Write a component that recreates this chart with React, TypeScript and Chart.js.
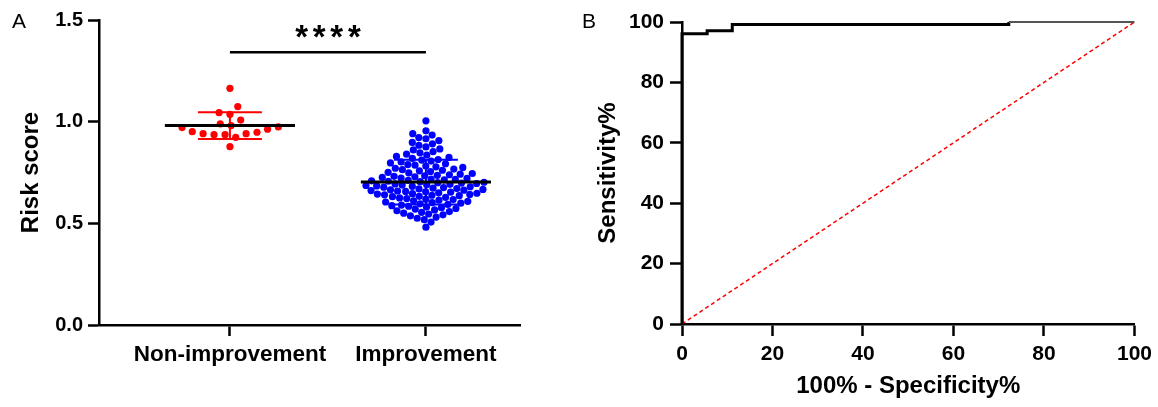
import React, { useEffect, useRef } from 'react';
import { Chart, registerables } from 'chart.js';

Chart.register(...registerables);

const FONT = '"Liberation Sans", Arial, Helvetica, sans-serif';

// ---------- Panel A data ----------
const groupLabels = ['Non-improvement', 'Improvement'];
const groupColors = ['#ff0000', '#0000ff'];
const nonImprovementScores = [
  1.164, 1.074, 1.044, 1.036, 1.008, 0.981, 0.971, 0.963, 0.974,
  0.989, 0.941, 0.936, 0.936, 0.941, 0.951, 0.923, 0.948, 0.877,
];
const improvementScores = [
  1.004,
  0.955, 0.941,
  0.934, 0.922, 0.916,
  0.907, 0.898, 0.891,
  0.884, 0.876, 0.866,
  0.861, 0.853, 0.847, 0.840,
  0.836, 0.829, 0.824, 0.819, 0.814,
  0.811, 0.806, 0.802, 0.797, 0.793, 0.789,
  0.786, 0.782, 0.778, 0.775, 0.771, 0.767, 0.764,
  0.761, 0.758, 0.755, 0.751, 0.748, 0.745, 0.742, 0.739,
  0.736, 0.734, 0.731, 0.729, 0.726, 0.723, 0.721, 0.718, 0.716, 0.714,
  0.711, 0.709, 0.707, 0.705, 0.702, 0.700, 0.698, 0.696, 0.694, 0.692, 0.690, 0.688,
  0.686, 0.684, 0.682, 0.680, 0.678, 0.676, 0.673, 0.671, 0.669, 0.667, 0.665, 0.663,
  0.661, 0.659, 0.657, 0.655, 0.653, 0.650, 0.648, 0.646, 0.644, 0.642, 0.640, 0.638,
  0.636, 0.633, 0.631, 0.628, 0.625, 0.622, 0.619, 0.617, 0.614,
  0.611, 0.608, 0.605, 0.602, 0.599, 0.596, 0.593, 0.590,
  0.587, 0.584, 0.580, 0.577, 0.573, 0.570, 0.566,
  0.562, 0.558, 0.554, 0.550, 0.546, 0.542,
  0.537, 0.531, 0.525, 0.518,
  0.506,
  0.481,
];
const riskRange = [0, 1.5];
const riskStep = 0.5;
const significanceText = '****';
const significanceLevel = 1.341;

// ---------- Panel B data ----------
const rocFpr = [0, 0, 5.56, 5.56, 11.11, 11.11, 72.22, 72.22, 100];
const rocTpr = [0, 96.1, 96.1, 97.1, 97.1, 99.2, 99.2, 100, 100];
const referenceFpr = [0, 100];
const referenceTpr = [0, 100];
const rocRange = [0, 100];
const rocStep = 20;

// ---------- helpers ----------
const mean = (a: number[]) => a.reduce((s, v) => s + v, 0) / a.length;
const sd = (a: number[]) => {
  const m = mean(a);
  return Math.sqrt(a.reduce((s, v) => s + (v - m) * (v - m), 0) / (a.length - 1));
};

function beeswarm(yPix: number[], d: number): number[] {
  const order = yPix.map((_, i) => i).sort((a, b) => yPix[b] - yPix[a]);
  const placed: { x: number; y: number }[] = [];
  const out: number[] = new Array(yPix.length).fill(0);
  let flip = 1;
  for (const i of order) {
    const y = yPix[i];
    const near = placed.filter((p) => Math.abs(p.y - y) < d);
    const cands = [0];
    for (const p of near) {
      const dx = Math.sqrt(d * d - (p.y - y) * (p.y - y));
      cands.push(p.x + dx, p.x - dx);
    }
    cands.sort((a, b) => Math.abs(a) - Math.abs(b) || (a - b) * flip);
    flip = -flip;
    for (const c of cands) {
      if (near.every((p) => (p.x - c) ** 2 + (p.y - y) ** 2 >= d * d - 1e-6)) {
        out[i] = c;
        placed.push({ x: c, y });
        break;
      }
    }
  }
  return out;
}

const swarmSpacing = [11, 7.2];

const axisGrid = {
  drawOnChartArea: false,
  drawTicks: true,
  tickLength: 11,
  tickWidth: 2.5,
  tickColor: '#000',
};
const axisBorder = { display: true, color: '#000', width: 2.5 };

const annotPlugin = {
  id: 'annot',
  afterDraw(chart: any, _args: any, opts: any) {
    const ctx = chart.ctx;
    ctx.save();
    ctx.fillStyle = '#000';
    ctx.textAlign = 'left';
    ctx.textBaseline = 'alphabetic';
    ctx.font = `21px ${FONT}`;
    ctx.fillText(opts.label, opts.lx, opts.ly);
    if (opts.stars) {
      const xs = chart.scales.x;
      const ys = chart.scales.y;
      const cx = (xs.getPixelForValue(0) + xs.getPixelForValue(1)) / 2;
      const barY = ys.getPixelForValue(significanceLevel);
      ctx.font = `bold 100px ${FONT}`;
      const m = ctx.measureText('*');
      const h100 = m.actualBoundingBoxAscent + m.actualBoundingBoxDescent;
      const size = (100 * 12.5) / h100;
      ctx.font = `bold ${size}px ${FONT}`;
      const mm = ctx.measureText('*');
      const cy = barY - 21;
      const base = cy + (mm.actualBoundingBoxAscent - mm.actualBoundingBoxDescent) / 2;
      ctx.textAlign = 'center';
      const n = significanceText.length;
      const sp = 17.6;
      for (let k = 0; k < n; k++) {
        ctx.fillText(significanceText[k], cx + (k - (n - 1) / 2) * sp, base);
      }
    }
    ctx.restore();
  },
};

function PanelA() {
  const ref = useRef<HTMLCanvasElement>(null);
  useEffect(() => {
    const groups = [nonImprovementScores, improvementScores];
    const datasets: any[] = [];
    groups.forEach((vals, gi) => {
      datasets.push({
        type: 'scatter',
        data: vals.map((v) => ({ x: gi, y: v })),
        backgroundColor: groupColors[gi],
        borderWidth: 0,
        pointRadius: 3.6,
        order: 3,
      });
    });
    groups.forEach((vals, gi) => {
      const m = mean(vals);
      const s = sd(vals);
      const cw = 0.163;
      datasets.push({
        type: 'line',
        showLine: true,
        data: [
          { x: gi - cw, y: m + s }, { x: gi + cw, y: m + s }, { x: gi, y: null },
          { x: gi, y: m + s }, { x: gi, y: m - s }, { x: gi, y: null },
          { x: gi - cw, y: m - s }, { x: gi + cw, y: m - s },
        ],
        borderColor: groupColors[gi],
        borderWidth: 2,
        pointRadius: 0,
        spanGaps: false,
        order: 2,
      });
      datasets.push({
        type: 'line',
        showLine: true,
        data: [{ x: gi - 0.332, y: m }, { x: gi + 0.332, y: m }],
        borderColor: '#000',
        borderWidth: 3,
        pointRadius: 0,
        order: 1,
      });
    });
    datasets.push({
      type: 'line',
      showLine: true,
      data: [{ x: 0, y: significanceLevel }, { x: 1, y: significanceLevel }],
      borderColor: '#000',
      borderWidth: 2.5,
      pointRadius: 0,
      clip: false,
      order: 0,
    });

    const chart = new Chart(ref.current!, {
      type: 'scatter',
      data: { datasets },
      plugins: [annotPlugin],
      options: {
        animation: false,
        responsive: false,
        devicePixelRatio: 1,
        layout: { padding: { top: 20, right: 40, left: 0, bottom: 0 } },
        plugins: {
          legend: { display: false },
          tooltip: { enabled: false },
          annot: { label: 'A', lx: 12, ly: 28, stars: true },
        } as any,
        scales: {
          x: {
            type: 'linear',
            min: -0.668,
            max: 1.48,
            afterBuildTicks: (s: any) => {
              s.ticks = [{ value: 0 }, { value: 1 }];
            },
            afterFit: (s: any) => {
              s.height = 82;
            },
            ticks: {
              callback: (v: any) => groupLabels[v] ?? '',
              font: { family: FONT, size: 22.5, weight: 'bold' },
              color: '#000',
              padding: 5,
              maxRotation: 0,
              autoSkip: false,
            },
            grid: axisGrid,
            border: axisBorder,
          },
          y: {
            min: riskRange[0],
            max: riskRange[1],
            afterFit: (s: any) => {
              s.width = 99;
            },
            ticks: {
              stepSize: riskStep,
              callback: (v: any) => Number(v).toFixed(1),
              font: { family: FONT, size: 20, weight: 'bold' },
              color: '#000',
              padding: 5,
            },
            grid: axisGrid,
            border: axisBorder,
            title: {
              display: true,
              text: 'Risk score',
              font: { family: FONT, size: 24, weight: 'bold' },
              color: '#000',
              padding: { top: 17, bottom: 0 },
            },
          },
        } as any,
      },
    });

    // beeswarm layout of the dots
    const ys: any = chart.scales.y;
    const xs: any = chart.scales.x;
    const pxPerUnit = Math.abs(xs.getPixelForValue(1) - xs.getPixelForValue(0));
    groups.forEach((vals, gi) => {
      const offs = beeswarm(vals.map((v) => ys.getPixelForValue(v)), swarmSpacing[gi]);
      (chart.data.datasets[gi] as any).data = vals.map((v, k) => ({ x: gi + offs[k] / pxPerUnit, y: v }));
    });
    chart.update();
    return () => chart.destroy();
  }, []);
  return <canvas ref={ref} width={560} height={407} style={{ position: 'absolute', left: 0, top: 0 }} />;
}

function PanelB() {
  const ref = useRef<HTMLCanvasElement>(null);
  useEffect(() => {
    const chart = new Chart(ref.current!, {
      type: 'scatter',
      data: {
        datasets: [
          {
            type: 'line',
            showLine: true,
            data: rocFpr.map((x, i) => ({ x, y: rocTpr[i] })),
            borderColor: '#000',
            borderWidth: 3,
            borderJoinStyle: 'miter',
            pointRadius: 0,
            clip: false,
            order: 0,
            segment: {
              borderWidth: (c: any) => (c.p0DataIndex >= 7 ? 2 : 3),
              borderColor: (c: any) => (c.p0DataIndex >= 7 ? '#555' : '#000'),
            },
          } as any,
          {
            type: 'line',
            showLine: true,
            data: referenceFpr.map((x, i) => ({ x, y: referenceTpr[i] })),
            borderColor: '#ff0000',
            borderWidth: 1.5,
            borderDash: [4, 3],
            pointRadius: 0,
            order: 1,
          },
        ],
      },
      plugins: [annotPlugin],
      options: {
        animation: false,
        responsive: false,
        devicePixelRatio: 1,
        layout: { padding: { top: 22, right: 23, left: 0, bottom: 0 } },
        plugins: {
          legend: { display: false },
          tooltip: { enabled: false },
          annot: { label: 'B', lx: 12, ly: 28, stars: false },
        } as any,
        scales: {
          x: {
            type: 'linear',
            min: rocRange[0],
            max: rocRange[1],
            afterFit: (s: any) => {
              s.height = 83;
            },
            ticks: {
              stepSize: rocStep,
              font: { family: FONT, size: 21, weight: 'bold' },
              color: '#000',
              padding: 6,
              maxRotation: 0,
            },
            grid: { ...axisGrid, tickLength: 12 },
            border: axisBorder,
            title: {
              display: true,
              text: '100% - Specificity%',
              font: { family: FONT, size: 24, weight: 'bold' },
              color: '#000',
              padding: { top: 0, bottom: 6 },
            },
          },
          y: {
            min: rocRange[0],
            max: rocRange[1],
            afterFit: (s: any) => {
              s.width = 112;
            },
            ticks: {
              stepSize: rocStep,
              font: { family: FONT, size: 21, weight: 'bold' },
              color: '#000',
              padding: 6,
            },
            grid: { ...axisGrid, tickLength: 12 },
            border: axisBorder,
            title: {
              display: true,
              text: 'Sensitivity%',
              font: { family: FONT, size: 24, weight: 'bold' },
              color: '#000',
              padding: { top: 24, bottom: 0 },
            },
          },
        } as any,
      },
    });
    return () => chart.destroy();
  }, []);
  return <canvas ref={ref} width={588} height={407} style={{ position: 'absolute', left: 570, top: 0 }} />;
}

export default function App() {
  return (
    <div style={{ position: 'fixed', left: 0, top: 0, width: 1158, height: 407, background: '#fff', overflow: 'hidden' }}>
      <PanelA />
      <PanelB />
    </div>
  );
}
